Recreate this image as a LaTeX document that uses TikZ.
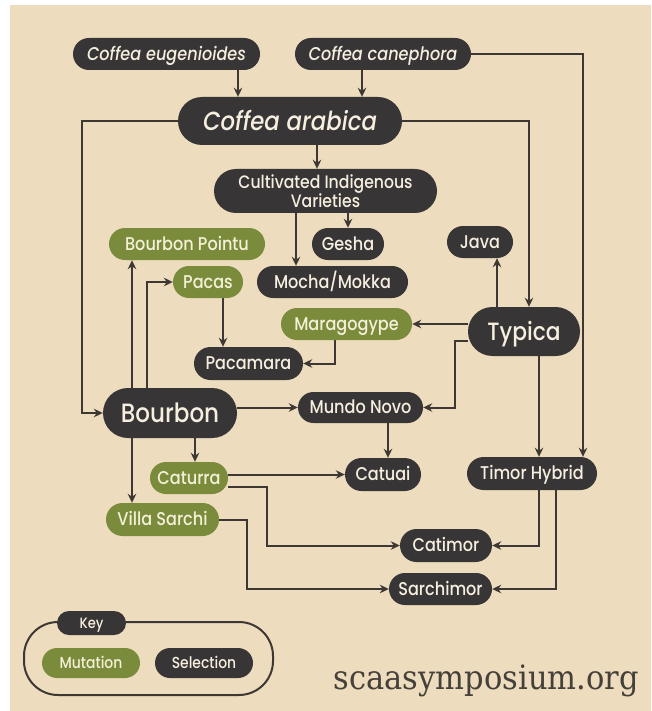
\documentclass[tikz,border=0pt]{standalone}
\usepackage{fontspec}
\setmainfont{Poppins}[UprightFont={* Medium}, ItalicFont={* Medium Italic}, FakeStretch=0.87]
\newfontfamily\slabfont{DejaVu Serif}
\usetikzlibrary{arrows.meta,shapes.misc}
\definecolor{bgc}{HTML}{EDDCBE}
\definecolor{darkc}{HTML}{373535}
\definecolor{greenc}{HTML}{7B8B3C}
\definecolor{linec}{HTML}{3D3833}
\definecolor{webc}{HTML}{45403A}
\definecolor{txtd}{HTML}{F6EEDF}
\definecolor{txtg}{HTML}{F4F0D8}
\pgfdeclarelayer{back}
\pgfdeclarelayer{edges}
\pgfsetlayers{back,edges,main}
\tikzset{
  pill/.style={rounded rectangle, inner xsep=0pt, inner ysep=0pt, text depth=0pt},
  dk/.style={pill, fill=darkc, text=txtd},
  gr/.style={pill, fill=greenc, text=txtg},
  sz/.style n args={2}{minimum width=#1pt, minimum height=#2pt},
  fbody/.style={font=\fontsize{18.5}{18.5}\selectfont, text height=12.9pt},
  fital/.style={font=\fontsize{18.5}{18.5}\selectfont\itshape, text height=12.9pt},
  fara/.style={font=\fontsize{26.2}{26.2}\selectfont\itshape, text height=18.3pt},
  ftyp/.style={font=\fontsize{25}{25}\selectfont, text height=17.5pt},
  fbour/.style={font=\fontsize{26.5}{26.5}\selectfont, text height=18.5pt},
  fkey/.style={font=\fontsize{16}{16}\selectfont, text height=11.2pt},
  fkeyt/.style={font=\fontsize{15}{15}\selectfont, text height=10.5pt},
  arr/.style={line width=2pt, draw=linec, -{Stealth[length=9pt,width=8.5pt]}},
  ln/.style={line width=2pt, draw=linec}
}
\begin{document}
\begin{tikzpicture}[x=1pt,y=-1pt]
\useasboundingbox (0,0) rectangle (651,711);
\begin{pgfonlayer}{back}
\fill[white] (0,0) rectangle (651,711);
\fill[bgc] (10,5) rectangle (651,711);
\end{pgfonlayer}

% nodes
\node[dk, sz={187}{32}, fital] (eug) at (166.5,54) {Coffea eugenioides};
\node[dk, sz={176}{32}, fital] (can) at (383,54) {Coffea canephora};
\node[dk, sz={224}{48}, fara] (ara) at (290,121) {Coffea arabica};
\node[dk, sz={223}{44}, align=center, font=\fontsize{18}{15.5}\selectfont] (civ) at (325.5,191) {Cultivated Indigenous\\Varieties};
\node[gr, sz={156}{32}, fbody] (bp) at (187,244) {Bourbon Pointu};
\node[dk, sz={72}{32}, fbody] (gesha) at (348,244) {Gesha};
\node[dk, sz={66}{32}, fbody] (java) at (480,242) {Java};
\node[gr, sz={70}{32}, fbody] (pacas) at (208,282) {Pacas};
\node[dk, sz={151}{32}, fbody] (mocha) at (332.5,282) {Mocha/Mokka};
\node[dk, sz={112}{49}, ftyp] (typica) at (524,331.5) {Typica};
\node[gr, sz={131}{32}, fbody] (marag) at (346.5,324) {Maragogype};
\node[dk, sz={109}{33}, fbody] (pacamara) at (248.5,363.5) {Pacamara};
\node[dk, sz={134}{50}, fbour] (bourbon) at (170,413) {Bourbon};
\node[dk, sz={125}{31}, fbody] (mundo) at (360.5,407.5) {Mundo Novo};
\node[gr, sz={78}{32}, fbody] (caturra) at (189,478) {Caturra};
\node[dk, sz={76}{33}, fbody] (catuai) at (383,474.5) {Catuai};
\node[dk, sz={130}{33}, fbody] (timor) at (532,473.5) {Timor Hybrid};
\node[gr, sz={113}{33}, fbody] (vs) at (162.5,519.5) {Villa Sarchi};
\node[dk, sz={92}{33}, fbody] (catimor) at (446,545.5) {Catimor};
\node[dk, sz={103}{32}, fbody] (sarchimor) at (440.5,589) {Sarchimor};
\node[dk, sz={69}{24}, fkeyt] (key) at (91.5,623) {Key};
\node[gr, sz={98}{30}, fkey] (mutation) at (91,663) {Mutation};
\node[dk, sz={98}{30}, fkey] (selection) at (204,663) {Selection};
\node[anchor=base east, inner sep=0pt, text=webc, font=\slabfont\fontsize{30.5}{30.5}\selectfont] (web) at (639,689) {\scalebox{1}[1.1]{scaasymposium.org}};

% lane coordinates
\coordinate (xA) at (238,0);
\coordinate (xB) at (362,0);
\coordinate (xC) at (317,0);
\coordinate (xL) at (82,0);
\coordinate (xR) at (529,0);
\coordinate (xK) at (583,0);
\coordinate (xM) at (296,0);
\coordinate (xG) at (348,0);
\coordinate (xJ) at (497,0);
\coordinate (xBP) at (132,0);
\coordinate (xPa) at (147,0);
\coordinate (xPm) at (223,0);
\coordinate (xMg) at (335,0);
\coordinate (xTM) at (455,0);
\coordinate (xCt) at (388,0);
\coordinate (xTT) at (539,0);
\coordinate (xTS) at (556,0);
\coordinate (xCa) at (195,0);
\coordinate (xCC) at (267,0);
\coordinate (xVS) at (247,0);
\coordinate (yTM) at (0,341);
\coordinate (yCC) at (0,487);

\begin{pgfonlayer}{edges}
\draw[arr] (eug.south -| xA) -- (ara.north -| xA);
\draw[arr] (can.south -| xB) -- (ara.north -| xB);
\draw[arr] (ara.west) -- (ara.west -| xL) -- (bourbon.west -| xL) -- (bourbon.west);
\draw[arr] (ara.east) -- (ara.east -| xR) -- (typica.north -| xR);
\draw[arr] (can.east) -- (can.east -| xK) -- (timor.north -| xK);
\draw[arr] (ara.south -| xC) -- (civ.north -| xC);
\draw[arr] (civ.south -| xM) -- (mocha.north -| xM);
\draw[arr] (civ.south -| xG) -- (gesha.north -| xG);
\draw[arr] (typica.north -| xJ) -- (java.south -| xJ);
\draw[arr] (typica.west |- marag.east) -- (marag.east);
\draw[arr] (typica.west |- yTM) -- (yTM -| xTM) -- (mundo.east -| xTM) -- (mundo.east);
\draw[arr] (typica.south -| xTT) -- (timor.north -| xTT);
\draw[arr] (bourbon.north -| xBP) -- (bp.south -| xBP);
\draw[arr] (bourbon.north -| xPa) -- (pacas.west -| xPa) -- (pacas.west);
\draw[arr] (pacas.south -| xPm) -- (pacamara.north -| xPm);
\draw[arr] (marag.south -| xMg) -- (pacamara.east -| xMg) -- (pacamara.east);
\draw[arr] (bourbon.east |- mundo.west) -- (mundo.west);
\draw[arr] (mundo.south -| xCt) -- (catuai.north -| xCt);
\draw[arr] (bourbon.south -| xBP) -- (vs.north -| xBP);
\draw[arr] (bourbon.south -| xCa) -- (caturra.north -| xCa);
\draw[arr] (caturra.east |- catuai.west) -- (catuai.west);
\draw[arr] (caturra.east |- yCC) -- (yCC -| xCC) -- (catimor.west -| xCC) -- (catimor.west);
\draw[arr] (vs.east) -- (vs.east -| xVS) -- (sarchimor.west -| xVS) -- (sarchimor.west);
\draw[arr] (timor.south -| xTT) -- (catimor.east -| xTT) -- (catimor.east);
\draw[arr] (timor.south -| xTS) -- (sarchimor.east -| xTS) -- (sarchimor.east);
\draw[ln, rounded corners=34pt] (24,622) rectangle (273,695);
\end{pgfonlayer}
\end{tikzpicture}
\end{document}
